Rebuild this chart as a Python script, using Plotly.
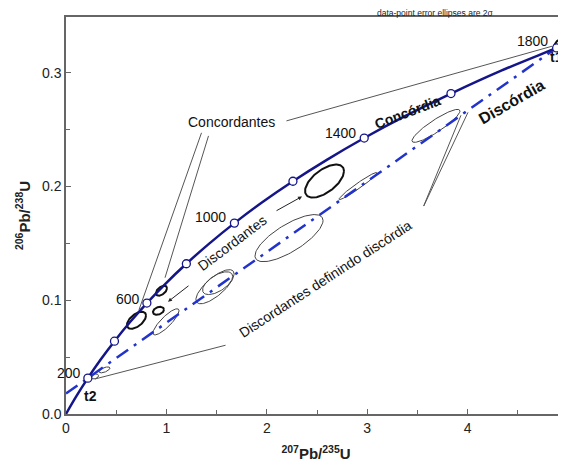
import numpy as np
import plotly.graph_objects as go

# Concordia curve, ages in Ma
conc_age = [0, 100, 200, 300, 400, 500, 600, 700, 800, 900, 1000, 1100, 1200,
            1300, 1400, 1500, 1600, 1700, 1800, 1815]
conc_x = [0.0, 0.1035, 0.2177, 0.3437, 0.4828, 0.6363, 0.8056, 0.9925, 1.1988,
          1.4263, 1.6774, 1.9545, 2.2603, 2.5977, 2.9703, 3.3810, 3.8344,
          4.3348, 4.8866, 4.974]
conc_y = [0.0, 0.01563, 0.03151, 0.04764, 0.06402, 0.08065, 0.09754, 0.1147,
          0.1321, 0.1498, 0.1678, 0.1861, 0.2046, 0.2234, 0.2426, 0.2620,
          0.2817, 0.3018, 0.3218, 0.3252]
# age markers on the concordia
mark_age = [200, 400, 600, 800, 1000, 1200, 1400, 1600, 1800]
mark_x = [0.2177, 0.4828, 0.8056, 1.1988, 1.6774, 2.2603, 2.9703, 3.8344, 4.8866]
mark_y = [0.03151, 0.06402, 0.09754, 0.1321, 0.1678, 0.2046, 0.2426, 0.2817, 0.3218]

# Discordia line end points
disc_x = [0.0, 4.98]
disc_y = [0.018, 0.3277]

# Error ellipses: centre x, centre y, sigma x, sigma y, correlation, bold?
ell_cx = [0.289, 0.383, 0.702, 0.951, 0.921, 0.996, 1.484, 1.51, 2.221, 2.575, 2.908, 3.685, 4.93]
ell_cy = [0.033, 0.0388, 0.0824, 0.1084, 0.0907, 0.081, 0.1119, 0.115, 0.1546, 0.2048, 0.2004, 0.2533, 0.326]
ell_sx = [0.035, 0.055, 0.095, 0.055, 0.055, 0.13, 0.19, 0.15, 0.339, 0.194, 0.189, 0.239, 0.07]
ell_sy = [0.0022, 0.0026, 0.0075, 0.0044, 0.0035, 0.0115, 0.015, 0.010, 0.0207, 0.0145, 0.0119, 0.0145, 0.0055]
ell_rho = [0.3, 0.6, 0.55, 0.5, 0.3, 0.85, 0.75, 0.6, 0.75, 0.6, 0.97, 0.9, 0.6]
ell_bold = [False, False, True, True, True, False, False, False, False, True, False, False, True]

xticks = [0, 1, 2, 3, 4, 5]
yticks = [0.0, 0.1, 0.2, 0.3]

NAVY = "#15158a"
BLUE = "#2233cc"
FONT = "Liberation Sans, Arial, sans-serif"

fig = go.Figure()

# ellipses
t = np.linspace(0, 2 * np.pi, 120)
for cx, cy, sx, sy, r, b in zip(ell_cx, ell_cy, ell_sx, ell_sy, ell_rho, ell_bold):
    ex = cx + sx * np.cos(t)
    ey = cy + sy * (r * np.cos(t) + np.sqrt(1 - r * r) * np.sin(t))
    fig.add_trace(go.Scatter(x=ex, y=ey, mode="lines", hoverinfo="skip",
                             line=dict(color="#111111" if b else "#444444",
                                       width=2 if b else 1)))

# discordia
fig.add_trace(go.Scatter(x=disc_x, y=disc_y, mode="lines",
                         line=dict(color=BLUE, width=2.5, dash="14px,7px,3px,7px")))
# concordia
fig.add_trace(go.Scatter(x=conc_x, y=conc_y, mode="lines", line_shape="spline",
                         line=dict(color=NAVY, width=2.5)))
fig.add_trace(go.Scatter(x=mark_x, y=mark_y, mode="markers",
                         marker=dict(symbol="circle", size=8, color="white",
                                     line=dict(color=NAVY, width=1.3))))

def txt(x, y, s, size=14, bold=False, angle=0, color="#111111"):
    if bold:
        s = "<b>" + s + "</b>"
    fig.add_annotation(x=x, y=y, xref="x", yref="y", text=s, showarrow=False,
                       textangle=angle, font=dict(size=size, color=color, family=FONT))

txt(0.03, 0.0361, "200")
txt(0.239, 0.0159, "t2", bold=True)
txt(0.617, 0.1013, "600")
txt(1.444, 0.1736, "1000")
txt(2.729, 0.2467, "1400")
txt(4.651, 0.3278, "1800")
txt(4.89, 0.3137, "t1", bold=True)
txt(3.406, 0.2652, "Concórdia", bold=True, angle=-21)
txt(4.442, 0.2749, "Discórdia", size=16, bold=True, angle=-30)
txt(1.653, 0.2564, "Concordantes")
txt(1.653, 0.1507, "Discordantes", angle=-37)
txt(2.58, 0.1189, "Discordantes definindo discórdia", angle=-33)

LC = "#555555"
def leader(x0, y0, x1, y1, head=0):
    fig.add_annotation(x=x1, y=y1, ax=x0, ay=y0, xref="x", yref="y", axref="x", ayref="y",
                       text="", showarrow=True, arrowhead=head if head else 0,
                       arrowsize=0.8, arrowwidth=1, arrowcolor=LC if not head else "#222222",
                       standoff=0, startstandoff=0)

leader(2.181, 0.2573, 4.841, 0.3233)
leader(1.355, 0.2485, 0.727, 0.0916)
leader(1.424, 0.2458, 0.986, 0.1198)
leader(2.082, 0.1780, 2.351, 0.1912, head=2)
leader(1.235, 0.1137, 1.016, 0.0987, head=2)
leader(1.604, 0.0608, 0.289, 0.0308)
leader(3.556, 0.1815, 3.934, 0.2626)
leader(3.556, 0.1815, 4.004, 0.2652)

# page body has an 8px margin: figure is placed at (8, 8)
W, H = 558, 465
L, T, B = 58, 9, 59
fig.add_annotation(xref="paper", yref="paper", x=(376 - 8 - L) / (W - L), y=1.0, yshift=T + 1,
                   xanchor="left", yanchor="top", showarrow=False,
                   text="data-point error ellipses are 2σ", borderpad=0,
                   font=dict(size=8.5, color="#222222", family=FONT))

fig.update_layout(
    width=W, height=H, showlegend=False,
    plot_bgcolor="white", paper_bgcolor="white",
    margin=dict(l=L, r=0, t=T, b=B),
    font=dict(family=FONT, size=14, color="#222222"),
    xaxis=dict(range=[0, 4.98], tickvals=xticks, ticks="inside", ticklen=5,
               minor=dict(dtick=0.5, ticks="inside", ticklen=4, tickcolor="#666666"),
               showline=True, linecolor="#666666", linewidth=1.5, mirror=True,
               showgrid=False, zeroline=False, tickcolor="#666666",
               tickfont=dict(size=14), automargin=False,
               title=dict(text="<b><sup>207</sup>Pb/<sup>235</sup>U</b>", standoff=14,
                          font=dict(size=15))),
    yaxis=dict(range=[0, 0.349], tickvals=yticks, tickformat=".1f", ticks="inside", ticklen=5,
               minor=dict(dtick=0.05, ticks="inside", ticklen=4, tickcolor="#666666"),
               showline=True, linecolor="#666666", linewidth=1.5,
               showgrid=False, zeroline=False, tickcolor="#666666",
               tickfont=dict(size=14), automargin=False,
               title=dict(text="<b><sup>206</sup>Pb/<sup>238</sup>U</b>", standoff=8,
                          font=dict(size=15))),
)

fig.write_html("out.html")
